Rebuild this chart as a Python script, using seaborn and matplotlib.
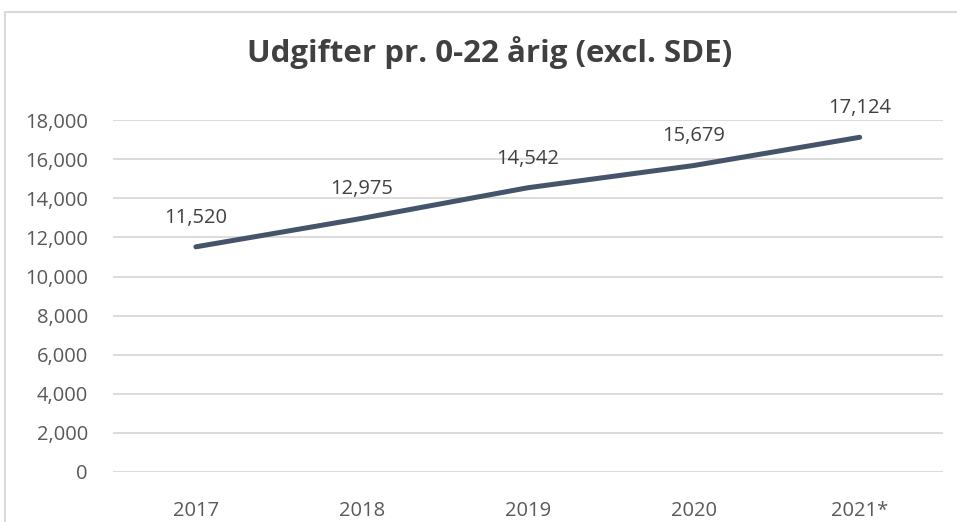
import matplotlib
matplotlib.use("Agg")
import matplotlib.pyplot as plt
import pandas as pd
import seaborn as sns
from matplotlib.patches import Rectangle
from matplotlib.ticker import FuncFormatter

years = ["2017", "2018", "2019", "2020", "2021*"]
spend = [11520, 12975, 14542, 15679, 17124]
yticks = [0, 2000, 4000, 6000, 8000, 10000, 12000, 14000, 16000, 18000]

df = pd.DataFrame({"year": years, "spend": spend})
df["pos"] = range(len(df))

sns.set_theme(style="white")
plt.rcParams["font.family"] = ["Open Sans", "DejaVu Sans"]

fig = plt.figure(figsize=(9.57, 5.22), dpi=100)
ax = fig.add_axes([0.118, 0.0958, 0.867, 0.674])

line_col = "#44546A"
grid_col = "#D9D9D9"
text_col = "#595959"

sns.lineplot(data=df, x="pos", y="spend", color=line_col, linewidth=3.6,
             ax=ax, solid_capstyle="round")

for p, v in zip(df["pos"], df["spend"]):
    ax.annotate(f"{v:,}", (p, v), xytext=(0, 21), textcoords="offset points",
                ha="center", va="center", fontsize=14.5, color="#404040")

ax.set_xlim(-0.5, len(years) - 0.5)
ax.set_ylim(0, 18000)
ax.set_xticks(df["pos"])
ax.set_xticklabels(years)
ax.set_yticks(yticks)
ax.yaxis.set_major_formatter(FuncFormatter(lambda v, _: f"{int(v):,}"))
ax.tick_params(axis="both", length=0, labelsize=14.5, colors=text_col)
ax.tick_params(axis="y", pad=18)
ax.tick_params(axis="x", pad=21)
ax.set_xlabel("")
ax.set_ylabel("")
ax.grid(axis="y", color=grid_col, linewidth=1.3)
ax.set_axisbelow(True)
for s in ax.spines.values():
    s.set_visible(False)

fig.text(0.512, 0.9, "Udgifter pr. 0-22 årig (excl. SDE)", ha="center",
         va="center", fontsize=22.5, fontweight="bold", color="#404040")

# outer chart frame (cropped on right and bottom)
fig.patches.append(Rectangle((5 / 957, -0.5), 2, 1 - 12 / 522 + 0.5,
                             transform=fig.transFigure, fill=False,
                             edgecolor=grid_col, linewidth=1.5))

fig.savefig("out.png", dpi=100)
